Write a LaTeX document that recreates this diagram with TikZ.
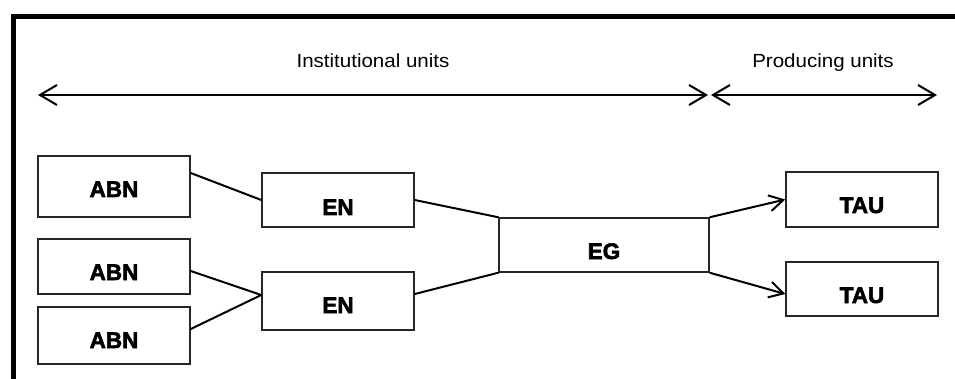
\documentclass[tikz,border=0pt]{standalone}
\usepackage{fontspec}
\usetikzlibrary{arrows.meta}
\newfontfamily\hdrfont{Liberation Sans}[FakeStretch=1.08]
\newfontfamily\bxfont{Liberation Sans Bold}[FakeBold=2.5]
\begin{document}
\begin{tikzpicture}[x=1pt,y=-1pt,
  unitbox/.style={draw=black!85,line width=1.5pt,inner sep=0pt,minimum width=152pt,
    text height=27pt,text depth=0pt,font=\bxfont\fontsize{22.5}{22.5}\selectfont},
  hdr/.style={inner sep=0pt,anchor=base,font=\hdrfont\fontsize{19}{19}\selectfont},
  link/.style={line width=2pt,line cap=round},
  scale arrow/.style={line width=2pt,{Straight Barb[length=17pt,width=20pt]}-{Straight Barb[length=17pt,width=20pt]}},
  flow/.style={line width=2pt,-{Straight Barb[length=14pt,width=16pt]}}]
\useasboundingbox[fill=white] (0,0) rectangle (955,379);
% frame
\draw[line width=5pt,line join=miter] (13.5,390) -- (13.5,16.5) -- (970,16.5);
% headers
\node[hdr] (inst) at (373,68) {Institutional units};
\node[hdr] (prod) at (823,68) {Producing units};
\coordinate (a1l) at (38,95);
\coordinate (a1r) at (708,95);
\coordinate (a2l) at (711,95);
\coordinate (a2r) at (937,95);
\draw[scale arrow] (a1l) -- (a1r);
\draw[scale arrow] (a2l) -- (a2r);
% boxes
\node[unitbox,minimum height=61pt,text height=21pt] (abn1) at (114,186.5) {ABN};
\node[unitbox,minimum height=55pt] (abn2) at (114,266.5) {ABN};
\node[unitbox,minimum height=57pt,text height=25pt] (abn3) at (114,335.5) {ABN};
\node[unitbox,minimum height=54pt,text height=30pt] (en1) at (338,200) {EN};
\node[unitbox,minimum height=58pt,text height=24pt] (en2) at (338,301) {EN};
\node[unitbox,minimum width=210pt,minimum height=54pt,text height=28pt] (eg) at (604,245) {EG};
\node[unitbox,minimum height=55pt] (tau1) at (862,199.5) {TAU};
\node[unitbox,minimum height=54pt,text height=28pt] (tau2) at (862,289) {TAU};
% connectors
\draw[link] ([yshift=13.5pt]abn1.east) -- (en1.west);
\draw[link] ([yshift=-4.5pt]abn2.east) -- ([yshift=6pt]en2.west);
\draw[link] ([yshift=6.5pt]abn3.east) -- ([yshift=6pt]en2.west);
\draw[link] (en1.east) -- (eg.north west);
\draw[link] ([yshift=7pt]en2.east) -- (eg.south west);
\draw[flow] (eg.north east) -- (tau1.west);
\draw[flow] (eg.south east) -- ([yshift=-5pt]tau2.west);
\end{tikzpicture}
\end{document}
